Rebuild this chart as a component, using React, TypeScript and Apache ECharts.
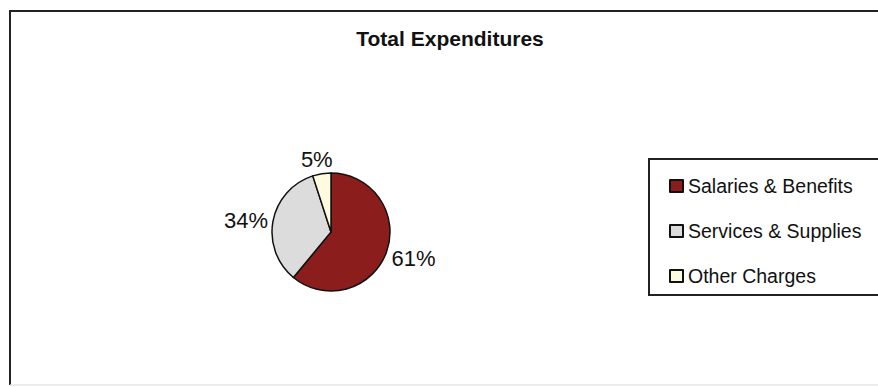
import React, { useEffect, useRef } from "react";
import * as echarts from "echarts";

const title = "Total Expenditures";
const categories = ["Salaries & Benefits", "Services & Supplies", "Other Charges"];
const values = [61, 34, 5];
const colors = ["#8B1D1D", "#DCDCDC", "#FFFBE0"];

export default function App() {
  const ref = useRef<HTMLDivElement>(null);
  useEffect(() => {
    if (!ref.current) return;
    const chart = echarts.init(ref.current, null, { renderer: "svg" });
    const font = "'Liberation Sans', Arial, sans-serif";
    chart.setOption({
      animation: false,
      backgroundColor: "#ffffff",
      graphic: [
        {
          type: "polyline",
          z: 0,
          shape: { points: [[900, 11], [10, 11], [10, 385]] },
          style: { stroke: "#222", lineWidth: 2, fill: "none" },
        },
        {
          type: "line",
          z: 0,
          shape: { x1: 10, y1: 385, x2: 878, y2: 385 },
          style: { stroke: "#e4e4e4", lineWidth: 1.5 },
        },
        {
          type: "rect",
          z: 0,
          shape: { x: 649, y: 159, width: 260, height: 136 },
          style: { stroke: "#222", lineWidth: 2, fill: "#fff" },
        },
        {
          type: "text",
          x: 450,
          y: 28,
          style: {
            text: title,
            fontFamily: font,
            fontWeight: "bold",
            fontSize: 21,
            fill: "#111",
            align: "center",
            verticalAlign: "top",
          },
        },
      ],
      legend: {
        orient: "vertical",
        left: 664,
        top: 171,
        itemWidth: 13,
        itemHeight: 12,
        itemGap: 25,
        icon: "rect",
        textStyle: { fontFamily: font, fontSize: 19.5, color: "#111" },
        data: categories,
      },
      series: [
        {
          type: "pie",
          center: [331, 232],
          radius: 59,
          startAngle: 90,
          clockwise: true,
          itemStyle: { borderColor: "#111", borderWidth: 1.5 },
          label: {
            show: true,
            position: "outside",
            formatter: "{d}%",
            fontFamily: font,
            fontSize: 22,
            color: "#111",
          },
          labelLine: { show: false, length: 0, length2: 0 },
          labelLayout: (p: any) => {
            if (p.dataIndex === 2) return { align: "center", dy: -14 };
            if (p.dataIndex === 0) return { dy: 7 };
            return {};
          },
          emphasis: { disabled: true },
          data: categories.map((name, i) => ({
            name,
            value: values[i],
            itemStyle: { color: colors[i] },
          })),
        },
      ],
    });
    return () => chart.dispose();
  }, []);
  return (
    <div
      ref={ref}
      style={{ position: "fixed", left: 0, top: 0, width: 878, height: 387 }}
    />
  );
}
